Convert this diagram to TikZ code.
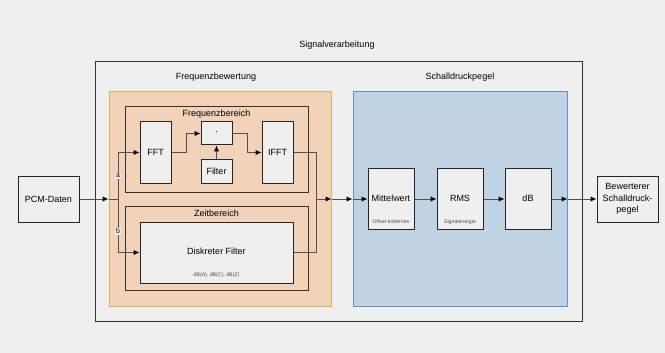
\documentclass[tikz,border=0pt]{standalone}
\usepackage{fontspec}
\setmainfont{Liberation Sans}
\usetikzlibrary{positioning, arrows.meta, calc}
\definecolor{bgcol}{HTML}{EFEFEF}
\definecolor{orfill}{HTML}{F2D2B8}
\definecolor{orline}{HTML}{D6B656}
\definecolor{blfill}{HTML}{BFD3E4}
\definecolor{blline}{HTML}{6C8EBF}
\definecolor{wire}{HTML}{505050}

\begin{document}
\begin{tikzpicture}[x=1pt, y=-1pt,
    every node/.style={font=\fontsize{9}{11.5}\selectfont},
    frame/.style={rectangle, draw=black!80, line width=1pt, inner sep=0pt},
    block/.style={rectangle, draw=black!85, line width=1pt, fill=bgcol, align=center, inner sep=1pt},
    tiny/.style={font=\fontsize{5.2}{6}\selectfont, text=black!70},
    arrow/.style={-{Latex[length=6pt, width=5.5pt, black]}, draw=wire, line width=1pt},
    wireline/.style={draw=wire, line width=1pt},
    label/.style={font=\fontsize{7}{8}\selectfont, fill=bgcol, inner sep=1pt}]

  % Hintergrund
  \fill[bgcol] (0,0) rectangle (665,353);
  \useasboundingbox (0,0) rectangle (665,353);

  % Container
  \node[frame, minimum width=487pt, minimum height=259pt] (sigv) at (338.5,191.5) {};
  \node (sigvt) at (337,45) {Signalverarbeitung};
  \node[frame, draw=orline, fill=orfill, minimum width=222pt, minimum height=214pt] (freq) at (220,199) {};
  \node (freqt) at (216,77) {Frequenzbewertung};
  \node[frame, draw=blline, fill=blfill, minimum width=214pt, minimum height=214pt] (schall) at (460,199) {};
  \node (schallt) at (460,77) {Schalldruckpegel};

  \node[frame, minimum width=183pt, minimum height=85pt] (fbereich) at (216.5,149.5) {};
  \node (fbereicht) at (216.5,114) {Frequenzbereich};
  \node[frame, minimum width=183pt, minimum height=84pt] (zbereich) at (216.5,248) {};
  \node (zbereicht) at (216.5,213) {Zeitbereich};

  % Bloecke
  \node[block, minimum width=61pt, minimum height=46pt] (pcm) at (48.5,199) {PCM-Daten};
  \node[block, minimum width=31pt, minimum height=61pt] (fft) at (155.5,152.5) {FFT};
  \node[block, minimum width=31pt, minimum height=23pt] (mul) at (216.5,133.5) {·};
  \node[block, minimum width=31pt, minimum height=23pt] (filt) at (216.5,171.5) {Filter};
  \node[block, minimum width=31pt, minimum height=61pt] (ifft) at (277.5,152.5) {IFFT};
  \node[block, minimum width=153pt, minimum height=61pt] (diskf) at (216.5,252.5) {};
  \node (diskft) at (216.5,251) {Diskreter Filter};
  \node[tiny] (diskfs) at (216.5,275) {dB(A), dB(C), dB(Z)};

  \node[block, minimum width=46pt, minimum height=61pt] (mittel) at (391,199) {};
  \node (mittelt) at (391,198) {Mittelwert};
  \node[tiny] (mittels) at (391,222) {Offset entfernen};
  \node[block, minimum width=46pt, minimum height=61pt] (rms) at (460,199) {};
  \node (rmst) at (460,198) {RMS};
  \node[tiny] (rmss) at (460,222) {Signalenergie};
  \node[block, minimum width=46pt, minimum height=61pt] (db) at (528,199) {};
  \node (dbt) at (528,198) {dB};
  \node[block, minimum width=61pt, minimum height=46pt] (out) at (627.5,199) {Bewerterer\\Schalldruck-\\pegel};

  % Verbindungen
  \coordinate (split) at (118,199);
  \coordinate (merge) at (316,199);

  \draw[arrow] (pcm.east) -- (freq.west);
  \draw[wireline] (freq.west) -- (split);
  \draw[arrow] (split) |- node[pos=0.25, label]{a} (fft.west);
  \draw[arrow] (split) |- node[pos=0.3, label]{b} (diskf.west);

  \draw[arrow] (fft.east) -- ++(15,0) |- (mul.west);
  \draw[arrow] (filt.north) -- (mul.south);
  \draw[arrow] (mul.east) -- ++(15,0) |- (ifft.west);

  \draw[wireline] (ifft.east) -| (merge);
  \draw[wireline] (diskf.east) -| (merge);
  \draw[arrow] (merge) -- (freq.east);

  \draw[arrow] (freq.east) -- (schall.west);
  \draw[arrow] (schall.west) -- (mittel.west);
  \draw[arrow] (mittel.east) -- (rms.west);
  \draw[arrow] (rms.east) -- (db.west);
  \draw[arrow] (db.east) -- (schall.east);
  \draw[arrow] (schall.east) -- (out.west);
\end{tikzpicture}
\end{document}
